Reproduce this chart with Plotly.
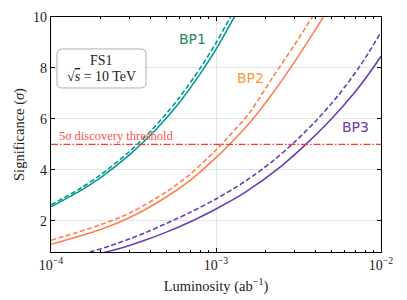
import plotly.graph_objects as go

# ---- data ----
bp1_lum = [1e-4, 1.5e-4, 2e-4, 3e-4, 4e-4, 5e-4, 6e-4, 8e-4, 1e-3, 1.2e-3, 1.4e-3]
bp1_sig_solid = [2.56, 3.18, 3.70, 4.60, 5.36, 6.04, 6.65, 7.76, 8.73, 9.63, 10.4]
bp1_sig_dashed = [2.63, 3.27, 3.81, 4.73, 5.51, 6.21, 6.84, 7.98, 8.98, 9.90, 10.7]

bp2_lum = [1e-4, 2e-4, 3e-4, 5e-4, 7e-4, 1e-3, 1.2e-3, 1.6e-3, 2.2e-3, 3e-3, 4e-3, 4.6e-3]
bp2_sig_solid = [1.08, 1.66, 2.13, 2.94, 3.6, 4.48, 4.98, 5.85, 7.0, 8.25, 9.5, 10.12]
bp2_sig_dashed = [1.24, 1.85, 2.31, 3.14, 3.84, 4.78, 5.32, 6.25, 7.62, 8.92, 10.2, 10.9]

bp3_lum_solid = [1.6e-4, 2.1e-4, 2.8e-4, 3.7e-4, 5e-4, 7e-4, 1e-3, 1.5e-3, 2.5e-3, 3.5e-3, 5e-3, 7e-3, 8.9e-3, 1e-2]
bp3_sig_solid = [0.58, 0.76, 0.98, 1.24, 1.56, 1.97, 2.47, 3.12, 4.16, 5.0, 6.0, 7.08, 7.98, 8.46]
bp3_lum_dashed = [1.4e-4, 1.75e-4, 2.3e-4, 3e-4, 4e-4, 5.4e-4, 7e-4, 1e-3, 1.5e-3, 2.2e-3, 2.92e-3, 4e-3, 5.5e-3, 7.5e-3, 1e-2]
bp3_sig_dashed = [0.635, 0.794, 1.03, 1.295, 1.62, 2.0, 2.34, 2.86, 3.55, 4.34, 5.03, 5.9, 6.92, 8.1, 9.4]

threshold = 5.0
x_range = [1e-4, 1e-2]
x_tickvals = [1e-4, 1e-3, 1e-2]
x_ticktext = ["10<sup>\u22124</sup>", "10<sup>\u22123</sup>", "10<sup>\u22122</sup>"]
x_minor = [k * 1e-4 for k in range(2, 10)] + [k * 1e-3 for k in range(2, 10)]
y_tickvals = [2, 4, 6, 8, 10]

TEAL = "#009a93"
ORANGE = "#ff7f50"
PURPLE = "#6a3db5"
SERIF = "Liberation Serif, Times New Roman, serif"

fig = go.Figure()

def add(x, y, color, dash):
    fig.add_trace(go.Scatter(x=x, y=y, mode="lines",
                             line=dict(color=color, width=1.6, dash=dash, shape="spline", smoothing=0.8),
                             hoverinfo="skip"))

add(bp1_lum, bp1_sig_dashed, TEAL, "5px,2.5px")
add(bp1_lum, bp1_sig_solid, TEAL, "solid")
add(bp2_lum, bp2_sig_dashed, ORANGE, "5px,2.5px")
add(bp2_lum, bp2_sig_solid, ORANGE, "solid")
add(bp3_lum_dashed, bp3_sig_dashed, PURPLE, "5px,2.5px")
add(bp3_lum_solid, bp3_sig_solid, PURPLE, "solid")

fig.add_trace(go.Scatter(x=x_range, y=[threshold, threshold], mode="lines",
                         line=dict(color="#ff3535", width=1.3, dash="7px,2px,1.5px,2px"),
                         hoverinfo="skip"))

# annotations
fig.add_annotation(x=-3.145, y=9.12, xref="x", yref="y", text="BP1", showarrow=False,
                   xanchor="center", font=dict(family="DejaVu Sans", size=14, color="#2a8a5a"))
fig.add_annotation(x=-2.791, y=7.59, xref="x", yref="y", text="BP2", showarrow=False,
                   xanchor="center", font=dict(family="DejaVu Sans", size=14, color="#fd9a3a"))
fig.add_annotation(x=-2.153, y=5.69, xref="x", yref="y", text="BP3", showarrow=False,
                   xanchor="center", font=dict(family="DejaVu Sans", size=14, color="#6a3d9a"))
fig.add_annotation(x=-3.606, y=threshold, xref="x", yref="y", yanchor="bottom", yshift=-1,
                   xanchor="center",
                   text="5<i>\u03c3</i> discovery threshold", showarrow=False,
                   font=dict(family=SERIF, size=12.5, color="#ff5050"))

# FS1 box (rounded)
x0, x1, y0, y1 = 0.018, 0.288, 0.698, 0.864
rx, ry = 0.016, 0.022
path = (f"M {x0+rx},{y0} L {x1-rx},{y0} Q {x1},{y0} {x1},{y0+ry} L {x1},{y1-ry} "
        f"Q {x1},{y1} {x1-rx},{y1} L {x0+rx},{y1} Q {x0},{y1} {x0},{y1-ry} "
        f"L {x0},{y0+ry} Q {x0},{y0} {x0+rx},{y0} Z")
fig.add_shape(type="path", path=path, xref="paper", yref="paper",
              line=dict(color="#b0b0b0", width=1), fillcolor="rgba(255,255,255,0.85)")
fig.add_annotation(x=(x0 + x1) / 2, y=0.816, xref="paper", yref="paper", text="FS1",
                   xanchor="center", yanchor="middle",
                   showarrow=False, font=dict(family=SERIF, size=14, color="#222"))
fig.add_annotation(x=(x0 + x1) / 2, y=0.747, xref="paper", yref="paper",
                   xanchor="center", yanchor="middle",
                   text="\u221a<span style='text-decoration:overline'><i>s</i></span> = 10 TeV",
                   showarrow=False, font=dict(family=SERIF, size=14, color="#222"))

axis_common = dict(showline=True, linecolor="black", linewidth=1.3, mirror="allticks",
                   ticks="inside", tickcolor="black", ticklen=4, tickwidth=1,
                   showgrid=True, gridcolor="#e4e4e4", gridwidth=1, zeroline=False,
                   automargin=False,
                   tickfont=dict(family=SERIF, size=14, color="#222"))

fig.update_xaxes(type="log", range=[-4, -2], tickmode="array", tickvals=x_tickvals,
                 ticktext=x_ticktext,
                 minor=dict(tickmode="array", tickvals=x_minor, ticks="inside", ticklen=2,
                            tickcolor="black", showgrid=False),
                 title=dict(text="Luminosity (ab<sup>\u22121</sup>)", standoff=8,
                            font=dict(family=SERIF, size=14.5, color="#222")),
                 **axis_common)
fig.update_yaxes(range=[0.78, 10], tickmode="array", tickvals=y_tickvals,
                 title=dict(text="Significance (<i>\u03c3</i>)", standoff=4,
                            font=dict(family=SERIF, size=14.5, color="#222")),
                 **axis_common)

# the page body has an 8px default margin, so size/margins are set to land the
# plot area at the same place as in the reference
fig.update_layout(width=399, height=292, margin=dict(l=43, r=26, t=9, b=48),
                  plot_bgcolor="white", paper_bgcolor="white", showlegend=False)

fig.write_html("out.html")
